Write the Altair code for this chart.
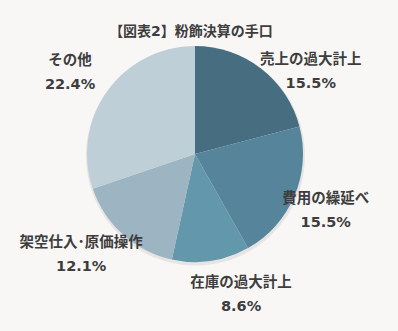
import altair as alt
import pandas as pd

title_text = "【図表2】粉飾決算の手口"
categories = ["売上の過大計上", "費用の繰延べ", "在庫の過大計上", "架空仕入･原価操作", "その他"]
values = [15.5, 15.5, 8.6, 12.1, 22.4]
colors = ["#466e80", "#56849a", "#6398ac", "#9db4c2", "#bfcfd8"]

# label placement tweaks (degrees added to the slice mid-angle, radius in px)
angle_nudge = {"売上の過大計上": 16.4, "費用の繰延べ": 0.0, "在庫の過大計上": -9.9,
               "架空仕入･原価操作": 7.1, "その他": -2.0}
radius_px = {"売上の過大計上": 143, "費用の繰延べ": 142, "在庫の過大計上": 146,
             "架空仕入･原価操作": 151, "その他": 150}

df = pd.DataFrame({"cat": categories, "value": values, "idx": list(range(len(categories)))})

CX, CY, R = 195, 154, 108
FONT = "DejaVu Sans, Noto Sans CJK JP"

def ternary(d, default):
    expr = str(default)
    for k, v in d.items():
        expr = f"(datum.cat === '{k}' ? {v} : {expr})"
    return expr

base = alt.Chart(df)

shadow = base.mark_arc(outerRadius=R + 1.5, color="#000000", opacity=0.07).encode(
    theta=alt.Theta("value:Q", stack=True),
    order=alt.Order("idx:Q"),
    x=alt.value(CX + 0.5), y=alt.value(CY + 2),
)

pie = base.mark_arc(outerRadius=R).encode(
    theta=alt.Theta("value:Q", stack=True),
    order=alt.Order("idx:Q"),
    color=alt.Color("cat:N", scale=alt.Scale(domain=categories, range=colors), legend=None),
    x=alt.value(CX), y=alt.value(CY),
)

labels = base.transform_joinaggregate(
    total="sum(value)"
).transform_window(
    cum="sum(value)", sort=[alt.SortField("idx")], frame=[None, 0]
).transform_calculate(
    mid=f"((datum.cum - datum.value / 2) / datum.total * 360 + {ternary(angle_nudge, 0)}) * PI / 180",
    rad=ternary(radius_px, 146),
    label="datum.cat + '\\n' + format(datum.value, '.1f') + '%'",
).mark_text(
    font=FONT, fontSize=14.5, fontWeight="bold", color="#3d3d3d",
    lineBreak="\n", lineHeight=24, align="center", baseline="middle", dy=-10,
).encode(
    theta=alt.Theta("mid:Q", stack=None, scale=None),
    radius=alt.Radius("rad:Q", scale=None),
    text="label:N",
    x=alt.value(CX), y=alt.value(CY),
)

title = alt.Chart(pd.DataFrame({"t": [title_text]})).mark_text(
    font=FONT, fontSize=14, fontWeight="bold", color="#3d3d3d", align="center", baseline="middle"
).encode(text="t:N", x=alt.value(191), y=alt.value(32))

chart = alt.layer(shadow, pie, labels, title).resolve_scale(theta="independent").properties(
    width=398, height=331, padding=0, autosize=alt.AutoSizeParams(type="none"),
    background="#f8f7f6",
).configure_view(stroke=None)

chart.save("out.html", embed_options={"renderer": "svg", "actions": False})
